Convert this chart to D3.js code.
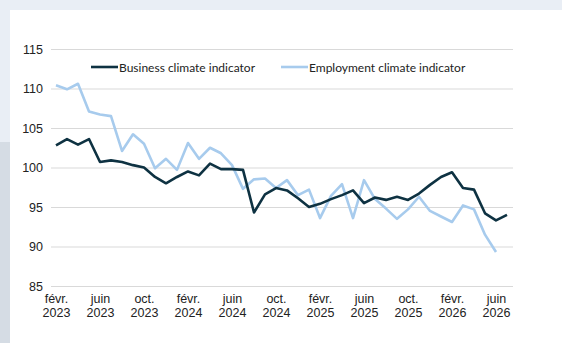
<!doctype html>
<html>
<head>
<meta charset="utf-8">
<title>Climate indicators</title>
<style>
  body { margin: 0; background: #fff; }
  svg { display: block; font-family: Lato, "Open Sans", sans-serif; }
  .grid line { stroke: #d9d9d9; stroke-width: 1.2px; }
  .tick text { fill: #222; font-size: 12.5px; }
  .line { fill: none; stroke-width: 2.6px; stroke-linejoin: round; }
</style>
<script src="https://cdn.jsdelivr.net/npm/d3@7"></script>
</head>
<body>
<script>
// monthly series, févr. 2023 onwards
var business = [102.8, 103.6, 102.9, 103.6, 100.7, 100.9, 100.7, 100.3, 100.0, 98.8,
  98.0, 98.8, 99.5, 99.0, 100.5, 99.8, 99.8, 99.7, 94.3, 96.6,
  97.4, 97.1, 96.1, 95.0, 95.4, 96.0, 96.5, 97.1, 95.5, 96.2,
  95.9, 96.3, 95.9, 96.7, 97.8, 98.8, 99.4, 97.4, 97.2, 94.2,
  93.3, 94.0];
var employment = [110.4, 109.9, 110.6, 107.1, 106.7, 106.5, 102.1, 104.2, 103.0, 99.9,
  101.1, 99.7, 103.1, 101.1, 102.5, 101.8, 100.3, 97.3, 98.5, 98.6,
  97.4, 98.4, 96.5, 97.2, 93.6, 96.4, 97.9, 93.6, 98.4, 96.0,
  94.8, 93.5, 94.7, 96.3, 94.5, 93.8, 93.1, 95.2, 94.7, 91.5,
  89.3];
var tickIndex = [0, 4, 8, 12, 16, 20, 24, 28, 32, 36, 40];
var tickMonth = ["févr.", "juin", "oct.", "févr.", "juin", "oct.", "févr.", "juin", "oct.", "févr.", "juin"];
var tickYear = ["2023", "2023", "2023", "2024", "2024", "2024", "2025", "2025", "2025", "2026", "2026"];
var yTicks = [85, 90, 95, 100, 105, 110, 115];

var W = 562, H = 343;
var svg = d3.select("body").append("svg").attr("width", W).attr("height", H);

// page decoration
svg.append("rect").attr("width", W).attr("height", H).attr("fill", "#e9eef5");
svg.append("rect").attr("x", 0).attr("y", 142).attr("width", 10).attr("height", H - 142).attr("fill", "#d5dce4");
svg.append("rect").attr("x", 10).attr("y", 10).attr("width", W - 10).attr("height", H - 10).attr("fill", "#fff");

var x = d3.scaleLinear().domain([0, 41]).range([56, 507]);
var y = d3.scaleLinear().domain([85, 115]).range([286, 49]);

// gridlines + y labels
var gy = svg.append("g").attr("class", "grid")
  .attr("transform", "translate(51,0)")
  .call(d3.axisLeft(y).tickValues(yTicks).tickSize(-462).tickPadding(8).tickFormat(d3.format("d")));
gy.select(".domain").remove();
gy.selectAll(".tick text").attr("x", -8);

// x labels
var gx = svg.append("g").attr("transform", "translate(0,286)")
  .call(d3.axisBottom(x).tickValues(tickIndex).tickSize(0).tickFormat(""));
gx.select(".domain").remove();
gx.selectAll(".tick").each(function(d, i) {
  var t = d3.select(this).append("text").attr("text-anchor", "middle");
  t.append("tspan").attr("x", 0).attr("y", 17).text(tickMonth[i]);
  t.append("tspan").attr("x", 0).attr("y", 31).text(tickYear[i]);
});

var line = d3.line()
  .x(function(d, i) { return x(i); })
  .y(function(d) { return y(d); });

svg.append("path").datum(employment).attr("class", "line")
  .attr("stroke", "#a7cbed").attr("d", line);
svg.append("path").datum(business).attr("class", "line")
  .attr("stroke", "#0e3242").attr("d", line);

// legend
var legend = [
  { name: "Business climate indicator", color: "#0e3242", x: 91 },
  { name: "Employment climate indicator", color: "#a7cbed", x: 281 }
];
var lg = svg.selectAll(".lg").data(legend).enter().append("g")
  .attr("transform", function(d) { return "translate(" + d.x + ",67)"; });
lg.append("line").attr("x1", 0).attr("x2", 27).attr("stroke", function(d) { return d.color; }).attr("stroke-width", 2.6);
lg.append("text").attr("x", 28).attr("y", 4.5).attr("fill", "#222").style("font-size", "12px")
  .text(function(d) { return d.name; });
</script>
</body>
</html>
